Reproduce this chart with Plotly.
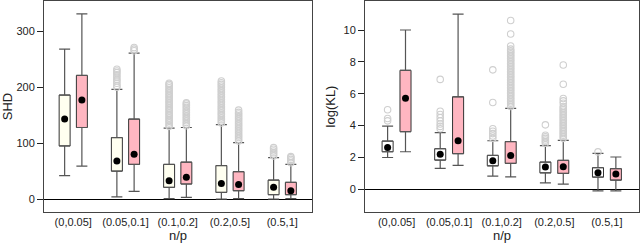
import plotly.graph_objects as go

categories = ["(0,0.05]", "(0.05,0.1]", "(0.1,0.2]", "(0.2,0.5]", "(0.5,1]"]

# ---- SHD panel ----
shd_a_lower = [42, 4, 1, 0, 0]
shd_a_q1 = [95, 50, 21, 12, 8]
shd_a_median = [143, 68, 33, 28, 21]
shd_a_q3 = [186, 110, 62, 60, 34]
shd_a_upper = [268, 196, 127, 133, 74]
shd_a_out = [
    [],
    [200, 203, 207, 211, 214, 218, 222, 226, 229, 232],
    [130, 133, 136, 139, 142, 145, 148, 151, 154, 157, 160, 163, 166, 169, 172, 175, 178,
     181, 184, 187, 190, 193, 196, 199, 202, 205, 207],
    [136, 139, 142, 145, 148, 151, 154, 157, 160, 163, 166, 169, 172, 175, 178, 181, 184,
     187, 190, 193, 196, 199, 202, 205, 208, 211],
    [77, 80, 83, 86, 89, 92],
]

shd_b_lower = [59, 14, 3, 1, 1]
shd_b_q1 = [128, 62, 27, 15, 8]
shd_b_median = [177, 80, 39, 26, 15]
shd_b_q3 = [221, 143, 66, 49, 30]
shd_b_upper = [331, 261, 128, 101, 62]
shd_b_out = [
    [],
    [265, 268, 271],
    [131, 134, 137, 140, 143, 146, 149, 152, 155, 158, 161, 164, 167, 170, 172],
    [104, 107, 110, 113, 116, 119, 122, 125, 128, 131, 134, 137, 140, 143, 146, 149, 152,
     155, 159],
    [65, 68, 71, 74, 76],
]

# ---- log(KL) panel ----
kl_a_lower = [2.0, 1.32, 0.83, 0.41, -0.09]
kl_a_q1 = [2.36, 1.84, 1.48, 1.04, 0.77]
kl_a_median = [2.63, 2.2, 1.8, 1.4, 1.04]
kl_a_q3 = [3.03, 2.55, 2.13, 1.71, 1.36]
kl_a_upper = [3.97, 3.56, 3.05, 2.74, 2.26]
kl_a_out = [
    [4.3, 4.45, 5.0],
    [3.8, 3.95, 4.1, 4.3, 4.5, 4.7, 4.9, 6.9],
    [3.2, 3.35, 3.5, 3.65, 3.8, 5.45, 7.5],
    [2.9, 3.0, 3.1, 3.2, 3.3, 3.4, 4.05],
    [2.35],
]

kl_b_lower = [2.36, 1.5, 0.79, 0.33, -0.09]
kl_b_q1 = [3.62, 2.24, 1.63, 1.0, 0.58]
kl_b_median = [5.71, 3.05, 2.13, 1.42, 0.96]
kl_b_q3 = [7.47, 5.81, 3.0, 1.82, 1.3]
kl_b_upper = [10.0, 11.0, 5.08, 3.07, 2.03]
kl_b_out = [
    [],
    [],
    [5.2, 5.3, 5.4, 5.5, 5.6, 5.7, 5.8, 5.9, 6.0, 6.1, 6.2, 6.3, 6.4, 6.5, 6.6, 6.7, 6.8,
     6.9, 7.0, 7.1, 7.2, 7.3, 7.4, 7.5, 7.6, 7.7, 7.8, 7.9, 8.0, 8.1, 8.2, 8.3, 8.4, 8.5,
     8.6, 8.7, 8.8, 9.0, 9.75, 10.6],
    [3.2, 3.3, 3.4, 3.5, 3.6, 3.7, 3.8, 3.9, 4.0, 4.1, 4.2, 4.3, 4.4, 4.5, 4.6, 4.7, 4.8,
     4.9, 5.0, 5.1, 5.2, 5.4, 5.55, 5.7, 6.6, 7.8],
    [],
]

IVORY = "#FFFFF0"
WHITE = "#FFFFFF"
PINK = "#FFB6C1"
BORDER = "#333333"
WHISK = "#555555"
OUT = "#CFCFCF"

fig = go.Figure()


def add_series(xa, ya, offset, lower, q1, med, q3, upper, outs, fill):
    xs = [i + 1 + offset for i in range(len(categories))]
    # whiskers (upper)
    fig.add_trace(go.Scatter(
        x=xs, y=q3, mode="markers", marker=dict(size=0.1, opacity=0),
        error_y=dict(type="data", symmetric=False,
                     array=[u - q for u, q in zip(upper, q3)],
                     arrayminus=[0] * len(xs), color=WHISK, thickness=1.2, width=5.5),
        xaxis=xa, yaxis=ya, showlegend=False, hoverinfo="skip"))
    # whiskers (lower)
    fig.add_trace(go.Scatter(
        x=xs, y=q1, mode="markers", marker=dict(size=0.1, opacity=0),
        error_y=dict(type="data", symmetric=False,
                     array=[0] * len(xs),
                     arrayminus=[q - l for q, l in zip(q1, lower)],
                     color=WHISK, thickness=1.2, width=5.5),
        xaxis=xa, yaxis=ya, showlegend=False, hoverinfo="skip"))
    # boxes
    fig.add_trace(go.Bar(
        x=xs, y=[b - a for a, b in zip(q1, q3)], base=q1, width=0.21,
        marker=dict(color=fill, line=dict(color=BORDER, width=1)),
        xaxis=xa, yaxis=ya, showlegend=False))
    # outliers
    ox, oy = [], []
    for x, vals in zip(xs, outs):
        for v in vals:
            ox.append(x)
            oy.append(v)
    fig.add_trace(go.Scatter(
        x=ox, y=oy, mode="markers",
        marker=dict(symbol="circle-open", size=6.5, color=OUT, line=dict(width=1.1, color=OUT)),
        xaxis=xa, yaxis=ya, showlegend=False))
    # medians
    fig.add_trace(go.Scatter(
        x=xs, y=med, mode="markers", marker=dict(size=7, color="black"),
        xaxis=xa, yaxis=ya, showlegend=False))


add_series("x", "y", -0.165, shd_a_lower, shd_a_q1, shd_a_median, shd_a_q3, shd_a_upper, shd_a_out, IVORY)
add_series("x", "y", 0.165, shd_b_lower, shd_b_q1, shd_b_median, shd_b_q3, shd_b_upper, shd_b_out, PINK)
add_series("x2", "y2", -0.17, kl_a_lower, kl_a_q1, kl_a_median, kl_a_q3, kl_a_upper, kl_a_out, WHITE)
add_series("x2", "y2", 0.17, kl_b_lower, kl_b_q1, kl_b_median, kl_b_q3, kl_b_upper, kl_b_out, PINK)

FONT = "Liberation Sans, Arial, sans-serif"
xcommon = dict(tickvals=[1, 2, 3, 4, 5], ticktext=categories, ticks="", showgrid=False,
               zeroline=False, showline=True, mirror=True, linecolor="#444", linewidth=1,
               tickfont=dict(size=11, color="#222", family=FONT),
               title=dict(text="n/p", font=dict(size=13, color="#222", family=FONT), standoff=2))
ycommon = dict(ticks="outside", ticklen=6, tickcolor="#222", showgrid=False,
               zeroline=True, zerolinecolor="black", zerolinewidth=1,
               showline=True, mirror=True, linecolor="#444", linewidth=1,
               tickfont=dict(size=11, color="#222", family=FONT))

fig.update_layout(
    width=640, height=244, margin=dict(l=0, r=0, t=0, b=0),
    paper_bgcolor="white", plot_bgcolor="white", barmode="overlay",
    font=dict(family=FONT), hovermode=False,
    xaxis=dict(domain=[44 / 640, 312 / 640], range=[0.44, 5.57], anchor="y", **xcommon),
    yaxis=dict(domain=[32 / 244, 243 / 244], range=[-23, 354], tickvals=[0, 100, 200, 300],
               anchor="x",
               title=dict(text="SHD", font=dict(size=13, color="#222", family=FONT), standoff=4),
               **ycommon),
    xaxis2=dict(domain=[365 / 640, 639 / 640], range=[0.40, 5.61], anchor="y2", **xcommon),
    yaxis2=dict(domain=[32 / 244, 243 / 244], range=[-1.42, 11.82],
                tickvals=[0, 2, 4, 6, 8, 10], anchor="x2",
                title=dict(text="log(KL)", font=dict(size=13, color="#222", family=FONT), standoff=4),
                **ycommon),
)

fig.write_html(
    "out.html",
    config={"displayModeBar": False, "staticPlot": True},
    post_script="document.body.style.margin='0';document.body.style.overflow='hidden';",
)
